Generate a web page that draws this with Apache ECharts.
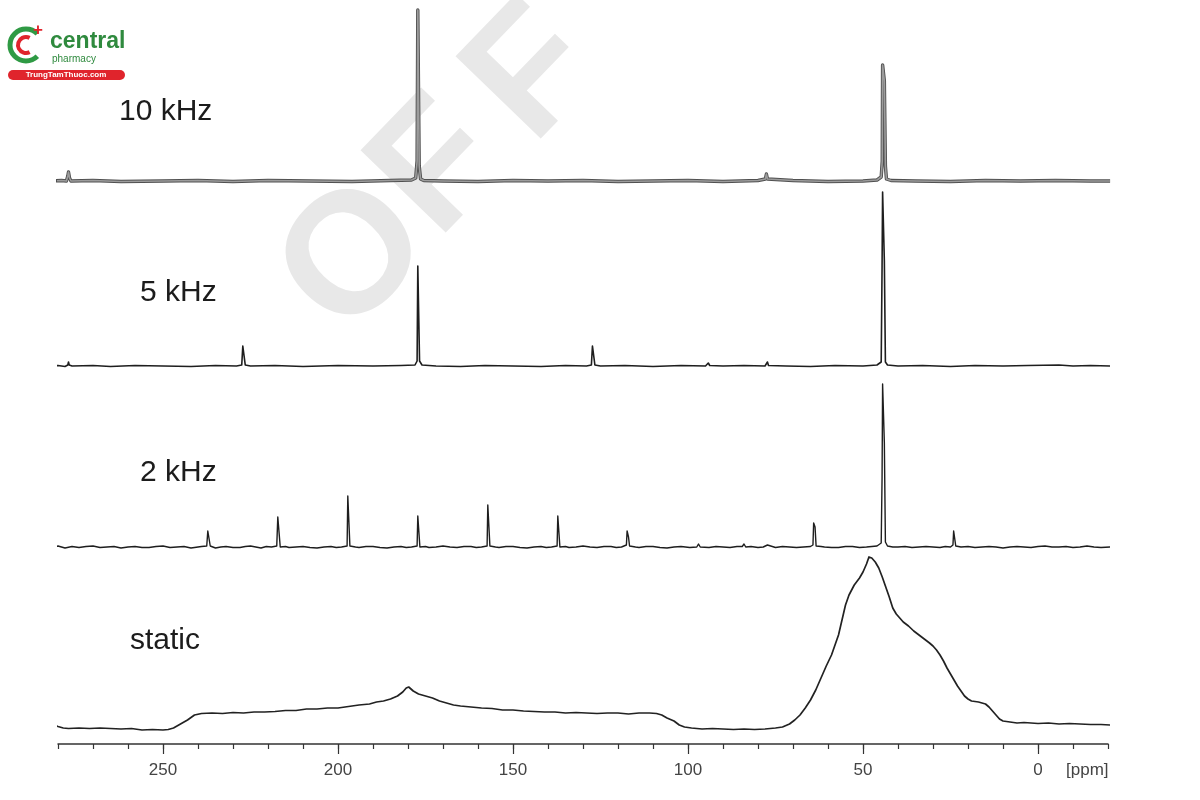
<!DOCTYPE html>
<html>
<head>
<meta charset="utf-8">
<script src="https://cdn.jsdelivr.net/npm/echarts@6/dist/echarts.min.js"></script>
<style>html,body{margin:0;padding:0;background:#fff}#c{width:1200px;height:800px}</style>
</head>
<body>
<div id="c"></div>
<script>
// ---- data: [chemical shift (ppm), intensity above baseline (a.u.)] ----
const panelLabels = ['10 kHz', '5 kHz', '2 kHz', 'static'];
const tickLabelValues = [250, 200, 150, 100, 50, 0];
const minorTickValues = [-20,-10,0,10,20,30,40,50,60,70,80,90,100,110,120,130,140,150,160,170,180,190,200,210,220,230,240,250,260,270,280];
const axisUnit = '[ppm]';
const watermarkLetters = ['O', 'F', 'F'];

const trace10kHz = [
  [281.7,0],[279,0.5],[277.6,0],[277.2,5],[277,9],[276.7,3],[276.3,0],[270,0.5],[262,-0.5],[250,0],
  [240,0.5],[230,-0.5],[220,0.5],[208,0],[196,-0.5],[185,0.5],[179,1],[177.8,3],[177.4,20],[177.2,171],
  [177.0,171],[176.8,15],[176.4,2],[175.5,0.5],[170,0],[160,-0.5],[150,0.5],[140,0],[130,0.5],[120,-0.5],
  [110,0],[100,0.5],[90,-0.5],[80,0.5],[77.9,2],[77.6,7],[77.3,2],[76.8,0],[70,0.5],[60,-0.5],[50,0],
  [46,1],[44.8,4],[44.5,20],[44.4,116],[44.1,116],[43.9,100],[43.6,15],[43.3,2],[42,0.5],[35,0],
  [25,-0.5],[15,0.5],[5,0],[-5,0.5],[-15,0],[-20.6,0]
];

const trace5kHz = [
  [281.7,0],[280,0.5],[278,-0.5],[277.2,1],[277,4],[276.8,1],[276,0],[270,0.5],[265,-0.5],[258,0.5],
  [250,0],[242,-0.5],[235,0.5],[229,0],[227.5,1],[227.2,20],[226.8,20],[226.5,1],[225,0],[218,0.5],
  [210,-0.5],[200,0.5],[190,0],[182,0.5],[178,1],[177.4,5],[177.2,100],[176.9,100],[176.7,5],[176,1],
  [172,0],[165,-0.5],[158,0.5],[150,0],[142,-0.5],[135,0.5],[129,0],[127.6,1],[127.3,20],[126.9,20],
  [126.6,1],[125,0],[118,0.5],[110,-0.5],[102,0.5],[95,0],[94.2,3],[93.8,0.5],[90,0],[84,0.5],
  [78,0],[77.3,4],[77,0.5],[72,0],[65,-0.5],[58,0.5],[50,0],[46,1],[44.8,4],[44.55,100],[44.4,174],
  [44.1,174],[43.9,105],[43.6,4],[43,1],[40,0],[33,0.5],[25,-0.5],[18,0.5],[10,0],[3,0.5],[-6,1],
  [-10,0],[-15,0.5],[-20.6,0]
];

const trace2kHz = [
  [281.7,0],[280,1],[278,-1],[276,0.5],[274,-0.5],[272,0.5],[270,1],[268,-0.5],[266,0],[264,0.5],[262,-1],
  [260,0],[258,0.5],[256,-0.5],[254,-0.5],[252,0.5],[250,1],[248,-0.5],[246,0],[244,0.5],[242,-1],[240,0],
  [239,0.5],[237.5,1],[237.2,16],[236.8,16],[236.5,1],[235,-1],[233.5,0],[232,0.5],[230,-0.5],[228,-0.5],
  [226.5,0.5],[225,1],[223.5,0],[222,-1],[220.5,0.5],[219,0],[217.5,1],[217.2,30],[216.8,30],[216.5,0],
  [215,0.5],[214,-0.5],[212,0],[210,0.5],[208,-0.5],[206,-1],[204,0],[202,0.5],[200.5,-0.5],[199,0],
  [197.4,1],[197.2,51],[196.8,51],[196.6,1],[195,0],[194,-0.5],[192,0.5],[190,0.5],[188,-0.5],[186,-1],
  [184,0],[182,0.5],[180.5,-0.5],[179,0],[177.4,1],[177.2,31],[176.8,31],[176.6,0],[175,0.5],[174,-0.5],
  [172,0],[170,1],[168,0],[166,-0.5],[164,0.5],[162,0.5],[160.5,-0.5],[159,0],[157.4,1],[157.2,42],
  [156.8,42],[156.6,1],[155,0],[154,-0.5],[152,0.5],[150,0.5],[148,-0.5],[146,-1],[144,0],[142,0.5],
  [140.5,-0.5],[139,0],[137.4,1],[137.2,31],[136.8,31],[136.6,0],[135,0.5],[134,-0.5],[132,0],[130,1],
  [128,0],[126,-0.5],[124,0.5],[122,0.5],[120.5,-0.5],[119,0],[117.6,2],[117.4,16],[117,10],[116.7,1],
  [115,0],[114,-0.5],[112,0.5],[110,0.5],[108,-0.5],[106,-1],[104,0],[102,0.5],[99.5,-0.5],[97.5,0],
  [97,3],[96.5,0],[94,-0.5],[92,0.5],[90,0],[88,-0.5],[86,0.5],[84.5,0.5],[84,3],[83.5,0],[82,0.5],
  [80,-0.5],[78.5,0],[77.3,2],[77,0],[75,-0.5],[73,0.5],[71,0],[69,-0.5],[67,0],[65,0.5],[64.3,2],
  [64.1,24],[63.7,20],[63.4,1],[62,0.5],[61,0],[59,-0.5],[57,-0.5],[55,0.5],[53,0.5],[51,-0.5],[49,0],
  [46,1],[44.8,4],[44.55,70],[44.4,163],[44.1,163],[43.9,104],[43.6,5],[43,1],[41.5,0],[40,0],[38,0.5],
  [36,-0.5],[34,0],[32,0.5],[30,0],[28,-0.5],[26.5,0.5],[25,0],[24.3,2],[24.1,16],[23.8,16],[23.5,1],
  [22,0],[20,0.5],[18,-0.5],[16,0],[14,0.5],[12,0],[10,-1],[8,0],[6,0.5],[4,0],[2,-0.5],[0,0.5],[-2,1],
  [-4,0],[-6,0],[-8,0.5],[-10,-0.5],[-12,0],[-14,1],[-16,0],[-18,-0.5],[-20.6,0]
];

const traceStatic = [
  [281.7,6],[281,5],[280,3.5],[278.5,2],[277,1.5],[274,2],[271,1.5],[268,2],[265,1.5],[262,1],
  [259,1.5],[256,0],[253,0.5],[250,0],[248.5,0.5],[247,2],[245,6],[243,10],[241,15],[239,16.5],
  [236,17],[233,16.5],[230,17.5],[227,17],[224,18],[221,18],[218,18.5],[215,19.5],[212,19.5],[209,21],
  [206,21],[203,22],[200,22],[197,23.5],[194,25],[191,26],[189,28],[187,29],[185,31],[183,34],
  [181.5,38],[180.5,42],[179.8,43],[178.5,39],[177,36],[175,34],[173,32],[171,29],[169,27],[167,25],
  [165,24],[162,23],[159,22],[156,21.5],[153,20],[150,20],[147,19],[144,18.5],[141,18],[138,18],
  [135,17],[132,17.5],[129,17],[126,16.5],[123,17],[120,17],[117,16],[114,17],[111,17],[109,16.5],
  [107.5,15],[106,12],[104,9],[102.5,5],[101,3],[99,2],[96,1],[93,1.5],[90,1],[87,0.5],[84,1],
  [81,0.5],[78,1],[75,2],[73,3],[71,6],[69.5,10],[68,15],[66.5,22],[65,30],[63.5,40],[62,52],
  [60.5,64],[59,75],[58,85],[57,95],[56,110],[55,125],[54,135],[52.5,145],[51,152],[50,158],[49,166],
  [48.3,173],[47.5,172],[46.5,168],[45.5,162],[44.5,153],[43.5,143],[42.5,133],[41.5,122],[40.5,116],
  [39.5,112],[38.5,108],[37,104],[35.5,99],[34,95],[32.5,91],[31,87],[30,84],[29,80],[28,75],[27,69],
  [26,62],[25,56],[24,50],[23,44],[22,39],[21,34],[20,31],[19,29],[18,28.5],[17,28],[16,27],[15,26],
  [14,23],[13,19],[12,15],[11,11],[10,9],[8,8],[6,7],[4,7.5],[2,7],[0,6.5],[-3,7],[-6,6],[-9,6.5],
  [-12,6],[-15,5.5],[-18,5.5],[-20.6,5]
];

// ---- layout ----
const X_MIN = -20, X_MAX = 280;
const baselines = [181, 366, 547, 730];
const PANEL_H = 180;
const FONT = '"Liberation Sans", Arial, sans-serif';

const chart = echarts.init(document.getElementById('c'), null, {renderer: 'canvas'});

const grids = baselines.map(b => ({left: 58, right: 92, top: b - PANEL_H, height: PANEL_H}));
const yAxes = baselines.map((b, i) => ({gridIndex: i, type: 'value', min: 0, max: PANEL_H, show: false}));
const xAxes = baselines.map((b, i) => ({
  gridIndex: i, type: 'value', min: X_MIN, max: X_MAX, inverse: true, show: i === 3,
  position: 'bottom', offset: 14,
  axisLine: {show: true, onZero: false, lineStyle: {color: '#333', width: 1.5}},
  axisTick: {show: true, inside: false, customValues: minorTickValues, length: 5, lineStyle: {color: '#333', width: 1.2}},
  axisLabel: {show: true, customValues: tickLabelValues, margin: 18, color: '#444', fontSize: 17, fontFamily: FONT},
  splitLine: {show: false}
}));
xAxes.push({
  gridIndex: 3, type: 'value', min: X_MIN, max: X_MAX, inverse: true, position: 'bottom', offset: 14,
  axisLine: {show: false, onZero: false},
  axisTick: {show: true, inside: false, customValues: tickLabelValues, length: 10, lineStyle: {color: '#333', width: 1.2}},
  axisLabel: {show: false}, splitLine: {show: false}
});

function lineSeries(data, idx, color, width, z) {
  return {type: 'line', data: data, xAxisIndex: idx, yAxisIndex: idx, showSymbol: false, symbol: 'none',
    clip: false, silent: true, z: z || 3, lineStyle: {color: color, width: width, join: 'round'}, animation: false};
}

const series = [
  lineSeries(trace10kHz, 0, '#505050', 3.4, 3),
  lineSeries(trace10kHz, 0, '#9c9c9c', 1.6, 4),
  lineSeries(trace5kHz, 1, '#1e1e1e', 1.6),
  lineSeries(trace2kHz, 2, '#1e1e1e', 1.4),
  lineSeries(traceStatic, 3, '#222', 1.7)
];

const titles = [
  {text: panelLabels[0], left: 119, top: 97},
  {text: panelLabels[1], left: 140, top: 278},
  {text: panelLabels[2], left: 140, top: 458},
  {text: panelLabels[3], left: 130, top: 626}
].map(t => ({text: t.text, left: t.left, top: t.top, padding: 0,
  textStyle: {fontSize: 30, fontWeight: 'normal', color: '#1c1c1c', fontFamily: FONT}}));

const wmAngle = 46 * Math.PI / 180;
const wmCenters = [[357, 260], [440, 170], [535, 76]];
const watermark = watermarkLetters.map((ch, i) => ({
  type: 'text', x: wmCenters[i][0], y: wmCenters[i][1], rotation: wmAngle, z: -10, silent: true,
  style: {text: ch, font: 'bold 172px ' + FONT, fill: '#e8e8e8', textAlign: 'center', textVerticalAlign: 'middle'}
}));

const graphic = watermark.concat([
  {type: 'text', left: 1066, top: 762, style: {text: axisUnit, font: '17px ' + FONT, fill: '#444'}},
  // logo
  {type: 'arc', shape: {cx: 26, cy: 45, r: 16, startAngle: Math.PI * 0.25, endAngle: Math.PI * 1.75}, style: {stroke: '#2f9a44', lineWidth: 5, fill: null}},
  {type: 'arc', shape: {cx: 26, cy: 45, r: 8, startAngle: Math.PI * 0.35, endAngle: Math.PI * 1.65}, style: {stroke: '#e0242c', lineWidth: 4, fill: null}},
  {type: 'text', x: 33, y: 22, style: {text: '+', font: 'bold 17px ' + FONT, fill: '#e0242c'}},
  {type: 'text', x: 50, y: 30, style: {text: 'central', font: 'bold 23px ' + FONT, fill: '#2f8a3e'}},
  {type: 'text', x: 52, y: 54, style: {text: 'pharmacy', font: '10px ' + FONT, fill: '#2f8a3e'}},
  {type: 'rect', shape: {x: 8, y: 70, width: 117, height: 10, r: 5}, style: {fill: '#e0242c'}},
  {type: 'text', x: 66, y: 75, style: {text: 'TrungTamThuoc.com', font: 'bold 8px ' + FONT, fill: '#fff', textAlign: 'center', textVerticalAlign: 'middle'}}
]);

chart.setOption({
  animation: false,
  backgroundColor: '#fff',
  title: titles,
  grid: grids,
  xAxis: xAxes,
  yAxis: yAxes,
  series: series,
  graphic: graphic
});
</script>
</body>
</html>
